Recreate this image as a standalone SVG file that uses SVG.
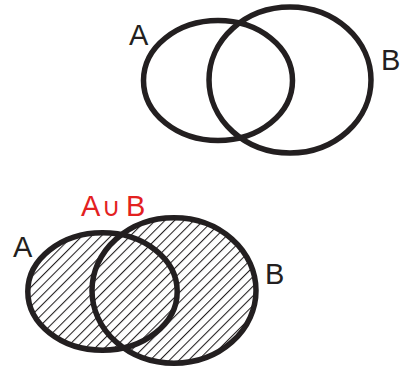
<svg xmlns="http://www.w3.org/2000/svg" width="403" height="369" viewBox="0 0 403 369">
  <style>
    .ring { fill: none; stroke: #231f20; stroke-width: 5.5; }
    .hatched { fill: url(#hatch); stroke: none; }
    .lbl { font-family: "Liberation Sans", Arial, sans-serif; font-size: 29px; fill: #231f20; }
    .red { font-family: "Liberation Sans", Arial, sans-serif; font-size: 29px; fill: #e3211f; }
  </style>
  <defs>
    <pattern id="hatch" patternUnits="userSpaceOnUse" width="6.8" height="6.8" patternTransform="rotate(45)">
      <rect width="6.8" height="6.8" fill="#ffffff"/>
      <line x1="0.5" y1="0" x2="0.5" y2="6.8" stroke="#231f20" stroke-width="1.1"/>
    </pattern>
  </defs>
  <rect width="403" height="369" fill="#ffffff"/>

  <g id="top-diagram">
    <g id="top-A">
      <ellipse class="ring" cx="218" cy="80.5" rx="74.5" ry="60"/>
      <text class="lbl" x="129" y="45">A</text>
    </g>
    <g id="top-B">
      <ellipse class="ring" cx="290" cy="80" rx="81" ry="73"/>
      <text class="lbl" x="381" y="70">B</text>
    </g>
  </g>

  <g id="bottom-diagram">
    <g id="union-fill">
      <ellipse class="hatched" cx="102.5" cy="291.5" rx="74.7" ry="58.7"/>
      <ellipse class="hatched" cx="174" cy="290.5" rx="82" ry="72.7"/>
    </g>
    <g id="bottom-A">
      <ellipse class="ring" cx="102.5" cy="291.5" rx="74.7" ry="58.7"/>
      <text class="lbl" x="13" y="257">A</text>
    </g>
    <g id="bottom-B">
      <ellipse class="ring" cx="174" cy="290.5" rx="82" ry="72.7"/>
      <text class="lbl" x="265" y="284">B</text>
    </g>
    <g id="union-label">
      <text class="red" x="81" y="216">A<tspan x="102" font-family="'DejaVu Sans', sans-serif" font-size="26">∪</tspan><tspan x="126">B</tspan></text>
    </g>
  </g>
</svg>
